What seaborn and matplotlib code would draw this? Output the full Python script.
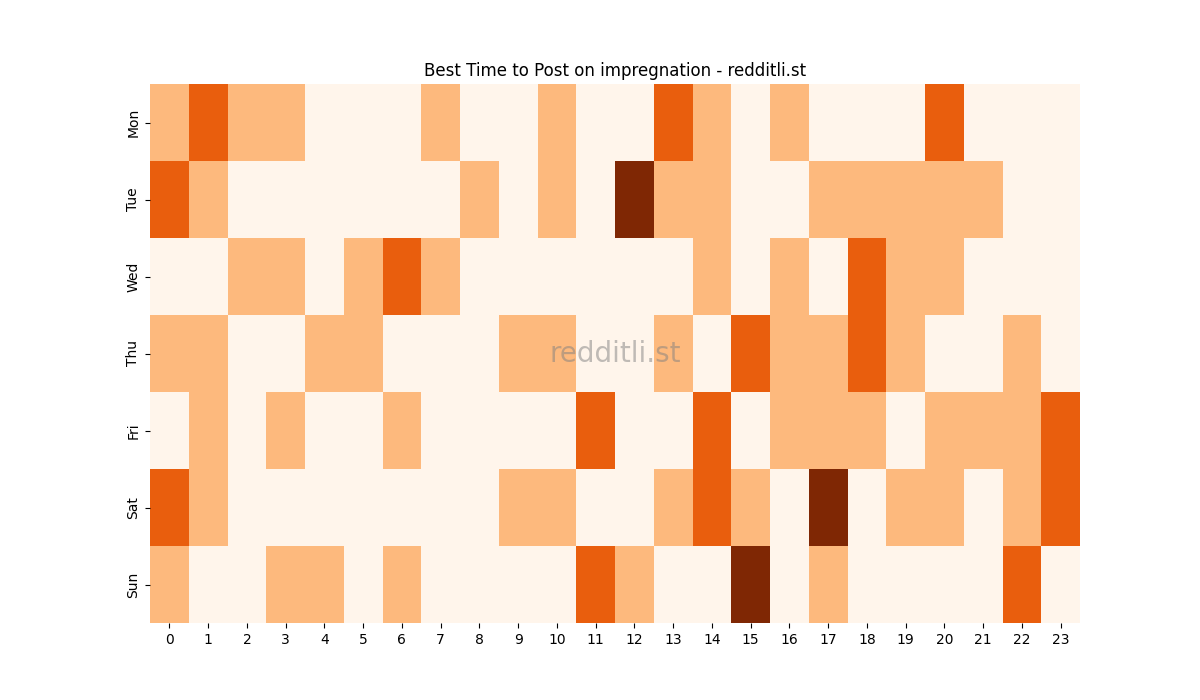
import matplotlib
matplotlib.use("Agg")
import matplotlib.pyplot as plt
import seaborn as sns
import pandas as pd

days = ["Mon", "Tue", "Wed", "Thu", "Fri", "Sat", "Sun"]
hours = list(range(24))

mon = [1, 2, 1, 1, 0, 0, 0, 1, 0, 0, 1, 0, 0, 2, 1, 0, 1, 0, 0, 0, 2, 0, 0, 0]
tue = [2, 1, 0, 0, 0, 0, 0, 0, 1, 0, 1, 0, 3, 1, 1, 0, 0, 1, 1, 1, 1, 1, 0, 0]
wed = [0, 0, 1, 1, 0, 1, 2, 1, 0, 0, 0, 0, 0, 0, 1, 0, 1, 0, 2, 1, 1, 0, 0, 0]
thu = [1, 1, 0, 0, 1, 1, 0, 0, 0, 1, 1, 0, 0, 1, 0, 2, 1, 1, 2, 1, 0, 0, 1, 0]
fri = [0, 1, 0, 1, 0, 0, 1, 0, 0, 0, 0, 2, 0, 0, 2, 0, 1, 1, 1, 0, 1, 1, 1, 2]
sat = [2, 1, 0, 0, 0, 0, 0, 0, 0, 1, 1, 0, 0, 1, 2, 1, 0, 3, 0, 1, 1, 0, 1, 2]
sun = [1, 0, 0, 1, 1, 0, 1, 0, 0, 0, 0, 2, 1, 0, 0, 3, 0, 1, 0, 0, 0, 0, 2, 0]

df = pd.DataFrame([mon, tue, wed, thu, fri, sat, sun], index=days, columns=hours)

fig, ax = plt.subplots(figsize=(12, 7), dpi=100)
sns.heatmap(df, cmap="Oranges", vmin=0, vmax=3, cbar=False, ax=ax)
ax.set_title("Best Time to Post on impregnation - redditli.st")
ax.text(0.5, 0.5, "redditli.st", transform=ax.transAxes, ha="center", va="center",
        fontsize=20, color="grey", alpha=0.5)
plt.savefig("out.png")
plt.close()
